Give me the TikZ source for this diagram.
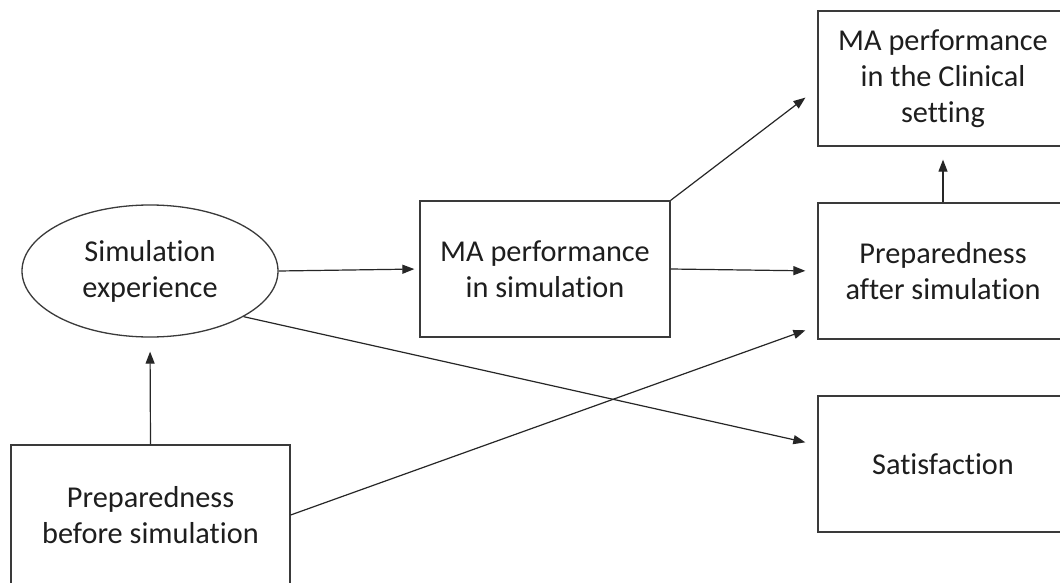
\documentclass[tikz,border=0pt]{standalone}
\usepackage{fontspec}
\setmainfont{Carlito}[Ligatures=NoCommon, RawFeature={-liga}]
\usetikzlibrary{shapes.geometric,arrows.meta,calc}
\definecolor{linec}{HTML}{3A3A3A}
\definecolor{textc}{HTML}{1E1E1E}
\tikzset{
  box/.style={draw=linec, line width=1.3pt, rectangle, inner sep=0pt, align=center,
    text=textc, font=\fontsize{30.3}{36}\selectfont},
  oval/.style={draw=linec, line width=1.3pt, ellipse, inner sep=0pt, align=center,
    text=textc, font=\fontsize{30.3}{36}\selectfont, minimum width=256pt, minimum height=132pt},
  arr/.style={draw=black!85, line width=1.2pt, -{Triangle[length=12pt,width=9pt]}}
}
\begin{document}
\begin{tikzpicture}[x=1pt,y=-1pt]
\clip (0,0) rectangle (1060,583);
\fill[white] (0,0) rectangle (1060,583);
\node[oval] (sim) at (150,271) {Simulation\\experience};
\node[box, minimum width=279pt, minimum height=140pt] (before) at (150.5,515) {Preparedness\\before simulation};
\node[box, minimum width=250pt, minimum height=136pt] (masim) at (545,269) {MA performance\\in simulation};
\node[box, minimum width=250pt, minimum height=135pt] (clin) at (943,78.5) {MA performance\\in the Clinical\\setting};
\node[box, minimum width=250pt, minimum height=136pt] (after) at (943,271) {Preparedness\\after simulation};
\node[box, minimum width=250pt, minimum height=136pt] (sat) at (943,464) {Satisfaction};

\draw[arr, shorten >=5pt] (sim.east) -- (masim.west);
\draw[arr, shorten >=12pt] (masim.east) -- (after.west);
\draw[arr, shorten >=15pt] (masim.north east) -- ($(clin.west)+(0,10)$);
\draw[arr, shorten >=13pt] (after.north) -- (clin.south);
\draw[arr, shorten >=12.3pt] (sim.-26) -- ($(sat.west)+(0,-19)$);
\draw[arr, shorten >=12.7pt] (before.east) -- ($(after.west)+(0,55)$);
\draw[arr, shorten >=14pt] (before.north) -- (sim.south);
\end{tikzpicture}
\end{document}
